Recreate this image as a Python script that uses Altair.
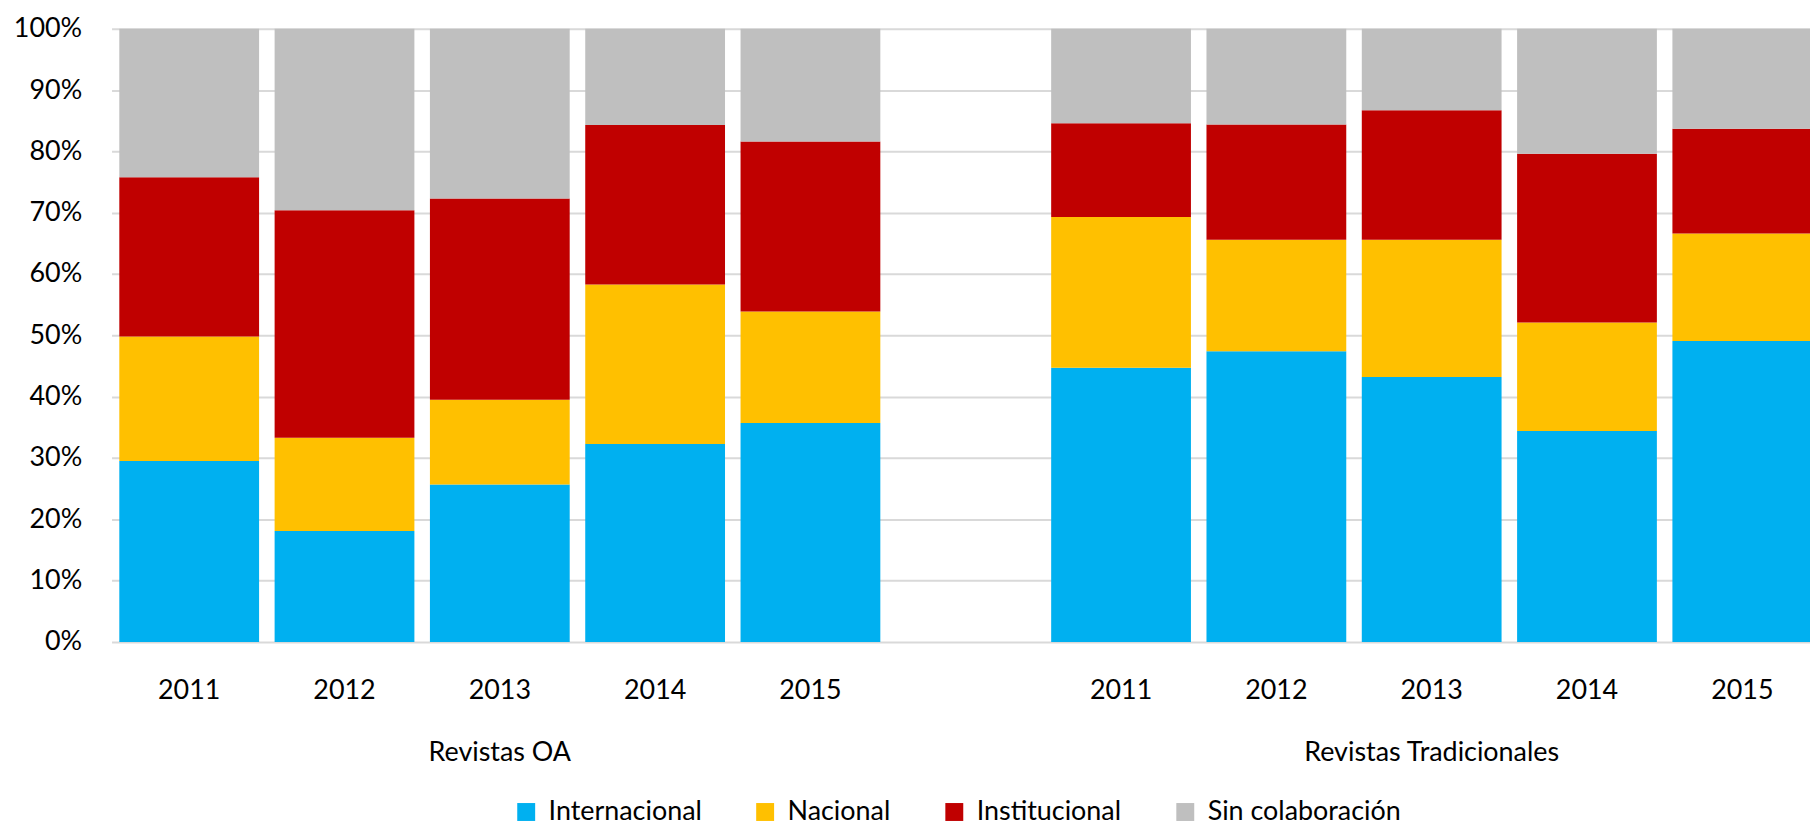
import altair as alt
import pandas as pd

# x slots: 5 OA bars, an empty slot, 5 traditional bars
slots = ["OA-2011", "OA-2012", "OA-2013", "OA-2014", "OA-2015", "gap",
         "TR-2011", "TR-2012", "TR-2013", "TR-2014", "TR-2015"]
barras = [s for s in slots if s != "gap"]

categorias = ["Internacional", "Nacional", "Institucional", "Sin colaboración"]
colores = ["#00B0F0", "#FFC000", "#C00000", "#BFBFBF"]

# shares (%) per bar, in the order of `barras`
internacional = [29.5, 18.1, 25.7, 32.3, 35.7, 44.7, 47.4, 43.2, 34.4, 49.1]
nacional = [20.3, 15.2, 13.8, 26.0, 18.2, 24.6, 18.2, 22.4, 17.7, 17.5]
institucional = [26.0, 37.1, 32.8, 26.0, 27.7, 15.3, 18.8, 21.1, 27.5, 17.1]
sin_colaboracion = [24.2, 29.6, 27.7, 15.7, 18.4, 15.4, 15.6, 13.3, 20.4, 16.3]

series = [internacional, nacional, institucional, sin_colaboracion]
rows = []
for i, b in enumerate(barras):
    for k, (cat, serie) in enumerate(zip(categorias, series)):
        rows.append({"slot": b, "categoria": cat, "orden": k, "valor": serie[i]})
df = pd.DataFrame(rows)

FONT = "Lato"
FS = 27
label_expr = (
    "datum.value === 'OA-2013' ? ['2013', 'Revistas OA'] : "
    "datum.value === 'TR-2013' ? ['2013', 'Revistas Tradicionales'] : "
    "datum.value === 'gap' ? '' : substring(datum.value, 3)"
)

chart = alt.Chart(df).mark_bar().encode(
    x=alt.X(
        "slot:N",
        scale=alt.Scale(domain=slots, range=[0, 1716], paddingInner=0.1, paddingOuter=0.05),
        axis=alt.Axis(
            title=None, labelExpr=label_expr, labelAngle=0, labelFontSize=FS,
            labelFont=FONT, labelColor="#000000", labelPadding=36, labelLineHeight=62,
            labelBaseline="top", labelAlign="center", labelLimit=0,
            ticks=False, domain=False, grid=False,
        ),
    ),
    y=alt.Y(
        "valor:Q",
        stack="normalize",
        scale=alt.Scale(domain=[0, 1], nice=False),
        axis=alt.Axis(
            title=None, format="%", values=[0, 0.1, 0.2, 0.3, 0.4, 0.5, 0.6, 0.7, 0.8, 0.9, 1.0],
            labelFontSize=FS, labelFont=FONT, labelColor="#000000", labelPadding=30,
            ticks=False, domain=False, grid=True, gridColor="#d9d9d9", gridWidth=2,
        ),
    ),
    color=alt.Color(
        "categoria:N",
        scale=alt.Scale(domain=categorias, range=colores),
        legend=alt.Legend(
            title=None, orient="none", legendX=403, legendY=773, direction="horizontal",
            symbolType="square", symbolSize=324, symbolStrokeWidth=0, labelFontSize=FS,
            labelFont=FONT, labelColor="#000000", labelOffset=9, columnPadding=50, padding=0,
            labelLimit=0,
        ),
    ),
    order=alt.Order("orden:Q", sort="ascending"),
).properties(
    width=1706,
    height=616,
    autosize=alt.AutoSizeParams(type="none"),
    padding={"left": 104, "top": 19, "right": 0, "bottom": 184},
).configure_view(stroke=None)

chart.save("out.html", embed_options={"renderer": "svg", "actions": False})
